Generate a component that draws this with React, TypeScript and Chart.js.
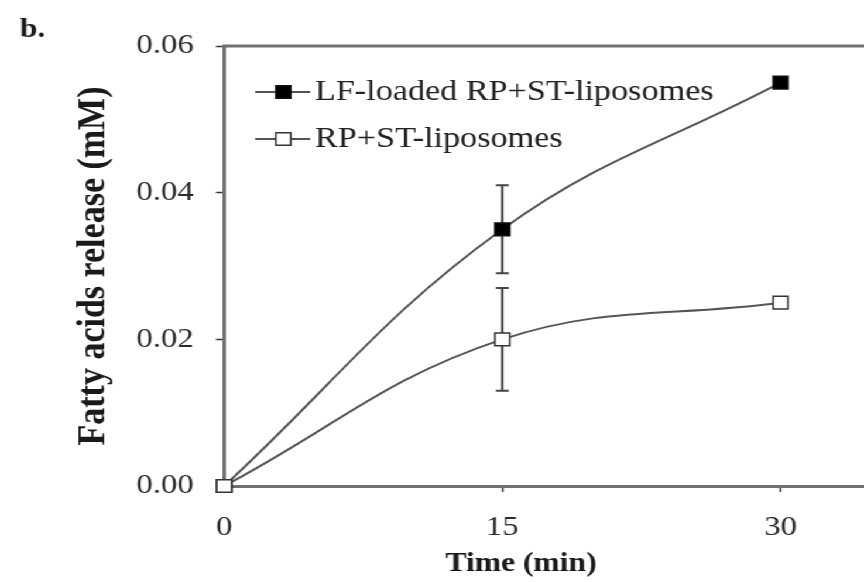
import React, { useEffect, useRef } from "react";
import { Chart, registerables } from "chart.js";
Chart.register(...registerables);

const timePoints = [0, 15, 30];
const lfLoaded = [0, 0.035, 0.055];
const lfLoadedErr = [0, 0.006, 0];
const rpSt = [0, 0.02, 0.025];
const rpStErr = [0, 0.007, 0];
const xTicks = [0, 15, 30];
const yTicks = [0, 0.02, 0.04, 0.06];
const seriesLabels = ["LF-loaded RP+ST-liposomes", "RP+ST-liposomes"];
const panelLabel = "b.";
const xTitle = "Time (min)";
const yTitle = "Fatty acids release (mM)";

const W = 738;
const H = 582;
const SX = 864 / W;
const SERIF = "'Liberation Serif', 'Times New Roman', serif";
const AXIS_COLOR = "#707070";
const LINE_COLOR = "#555555";
const POINT_R = 9;

const errorBars = {
  id: "errorBars",
  beforeDatasetsDraw(chart: any) {
    const ctx = chart.ctx;
    const xs = chart.scales.x;
    const ys = chart.scales.y;
    chart.data.datasets.forEach((ds: any) => {
      const errs = ds.errors;
      if (!errs) return;
      ds.data.forEach((p: any, i: number) => {
        const e = errs[i];
        if (!e) return;
        const px = xs.getPixelForValue(p.x);
        const top = ys.getPixelForValue(p.y + e);
        const bot = ys.getPixelForValue(p.y - e);
        ctx.save();
        ctx.strokeStyle = "#444";
        ctx.lineWidth = 2;
        ctx.beginPath();
        ctx.moveTo(px, top);
        ctx.lineTo(px, bot);
        ctx.moveTo(px - 5.5, top);
        ctx.lineTo(px + 5.5, top);
        ctx.moveTo(px - 5.5, bot);
        ctx.lineTo(px + 5.5, bot);
        ctx.stroke();
        ctx.restore();
      });
    });
  },
};

const decorations = {
  id: "decorations",
  afterDraw(chart: any) {
    const ctx = chart.ctx;
    const area = chart.chartArea;
    ctx.save();
    // top frame line
    ctx.strokeStyle = AXIS_COLOR;
    ctx.lineWidth = 3;
    ctx.beginPath();
    ctx.moveTo(area.left - 1.5, area.top);
    ctx.lineTo(area.right, area.top);
    ctx.stroke();

    // legend
    const rows = [92, 139];
    chart.data.datasets.forEach((ds: any, i: number) => {
      const y = rows[i];
      ctx.strokeStyle = LINE_COLOR;
      ctx.lineWidth = 2;
      ctx.beginPath();
      ctx.moveTo(218, y);
      ctx.lineTo(265, y);
      ctx.stroke();
      const half = Math.SQRT1_2 * POINT_R;
      ctx.fillStyle = ds.pointBackgroundColor;
      ctx.strokeStyle = ds.pointBorderColor;
      ctx.lineWidth = 1.5;
      ctx.beginPath();
      ctx.rect(242 - half, y - half, half * 2, half * 2);
      ctx.fill();
      ctx.stroke();
      ctx.fillStyle = "#222";
      ctx.font = `29.2px ${SERIF}`;
      ctx.textAlign = "left";
      ctx.textBaseline = "middle";
      ctx.fillText(ds.label, 269, y);
    });

    // x title
    ctx.fillStyle = "#1a1a1a";
    ctx.font = `bold 27px ${SERIF}`;
    ctx.textAlign = "center";
    ctx.textBaseline = "middle";
    ctx.fillText(xTitle, 445, 564);

    // panel label
    ctx.font = `bold 27px ${SERIF}`;
    ctx.textAlign = "left";
    ctx.textBaseline = "alphabetic";
    ctx.fillText(panelLabel, 17, 37);
    ctx.restore();
  },
};

export default function App() {
  const ref = useRef<HTMLCanvasElement | null>(null);
  useEffect(() => {
    if (!ref.current) return;
    const chart = new Chart(ref.current, {
      type: "line",
      data: {
        datasets: [
          {
            label: seriesLabels[0],
            data: timePoints.map((t, i) => ({ x: t, y: lfLoaded[i] })),
            errors: lfLoadedErr,
            order: 1,
            borderColor: LINE_COLOR,
            borderWidth: 2,
            tension: 0.4,
            pointStyle: "rect",
            pointRadius: POINT_R,
            pointBackgroundColor: "#000000",
            pointBorderColor: "#111111",
            pointBorderWidth: 1.5,
            clip: false,
          } as any,
          {
            label: seriesLabels[1],
            data: timePoints.map((t, i) => ({ x: t, y: rpSt[i] })),
            errors: rpStErr,
            order: 0,
            borderColor: LINE_COLOR,
            borderWidth: 2,
            tension: 0.4,
            pointStyle: "rect",
            pointRadius: POINT_R,
            pointBackgroundColor: "#ffffff",
            pointBorderColor: "#333333",
            pointBorderWidth: 1.5,
            clip: false,
          } as any,
        ],
      },
      options: {
        animation: false,
        responsive: false,
        devicePixelRatio: 1,
        layout: {
          autoPadding: false,
          padding: { top: 46, left: 0, right: 0, bottom: 0 },
        },
        plugins: {
          legend: { display: false },
          tooltip: { enabled: false },
        },
        scales: {
          x: {
            type: "linear",
            min: 0,
            max: 34.5,
            afterBuildTicks: (s: any) => {
              s.ticks = xTicks.map((v) => ({ value: v }));
            },
            afterFit: (s: any) => {
              s.height = 96;
            },
            border: { display: true, color: AXIS_COLOR, width: 3 },
            grid: {
              drawOnChartArea: false,
              drawTicks: true,
              tickLength: 6,
              tickWidth: 1.5,
              color: "#333",
            },
            ticks: {
              color: "#2a2a2a",
              font: { family: SERIF, size: 28 },
              padding: 19,
              maxRotation: 0,
              callback: (v: any) => String(v),
            },
          },
          y: {
            type: "linear",
            min: 0,
            max: 0.06,
            afterBuildTicks: (s: any) => {
              s.ticks = yTicks.map((v) => ({ value: v }));
            },
            afterFit: (s: any) => {
              s.width = 191.5;
            },
            border: { display: true, color: AXIS_COLOR, width: 3 },
            grid: {
              drawOnChartArea: false,
              drawTicks: true,
              tickLength: 7,
              tickWidth: 1.5,
              color: "#333",
            },
            ticks: {
              color: "#2a2a2a",
              font: { family: SERIF, size: 28 },
              padding: 19,
              callback: (v: any) => Number(v).toFixed(2),
            },
            title: {
              display: true,
              text: yTitle,
              color: "#1a1a1a",
              font: { family: SERIF, size: 34, weight: "bold" },
              padding: { top: 60, bottom: 0 },
            },
          },
        },
      },
      plugins: [errorBars, decorations],
    } as any);
    return () => chart.destroy();
  }, []);

  return (
    <div
      style={{
        position: "fixed",
        left: 0,
        top: 0,
        width: W,
        height: H,
        transform: `scaleX(${SX})`,
        transformOrigin: "0 0",
        background: "#fff",
      }}
    >
      <canvas
        ref={ref}
        width={W}
        height={H}
        style={{ display: "block", width: W, height: H }}
      />
    </div>
  );
}
